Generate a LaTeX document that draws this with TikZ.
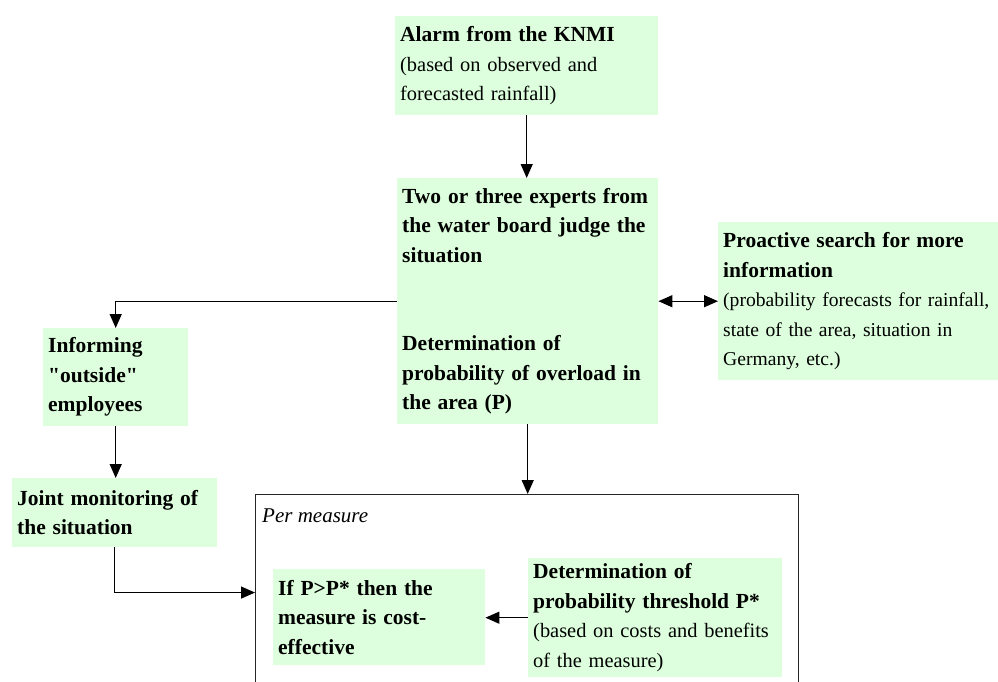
\documentclass[tikz,border=0pt]{standalone}
\usepackage{fontspec}
\setmainfont{Liberation Serif}[Ligatures=TeXOff]
\usetikzlibrary{arrows.meta}
\definecolor{boxgreen}{RGB}{221,255,221}
\newcommand{\bt}[1]{{\fontsize{21.5}{29.5}\selectfont\bfseries #1}}
\tikzset{
  flowbox/.style={fill=boxgreen, draw=none, anchor=north west, inner xsep=5pt, inner ysep=2pt,
    align=left, font=\fontsize{20.4}{29.5}\selectfont},
  arr/.style={line width=1.3pt, -{Triangle[length=14pt,width=12pt]}},
  dblarr/.style={line width=1.3pt, {Triangle[length=14pt,width=12pt]}-{Triangle[length=14pt,width=12pt]}},
  framebox/.style={draw=black!85, line width=1.1pt, anchor=north west, inner sep=0pt}
}
\begin{document}
\begin{tikzpicture}[x=1pt, y=-1pt]
\useasboundingbox (0,0) rectangle (998,682);

\node[flowbox, text width=253pt, minimum width=263pt, minimum height=99pt] (alarm) at (395,16)
  {\bt{Alarm from the KNMI}\\(based on observed and\\forecasted rainfall)};

\node[flowbox, text width=251pt, minimum width=261pt, minimum height=246pt] (judge) at (397,178)
  {\bt{Two or three experts from}\\\bt{the water board judge the}\\\bt{situation}\\[59pt]\bt{Determination of}\\\bt{probability of overload in}\\\bt{the area (P)}};

\node[flowbox, text width=270pt, minimum width=280pt, minimum height=158pt, font=\fontsize{19.6}{29.5}\selectfont] (proact) at (718,222)
  {\bt{Proactive search for more}\\\bt{information}\\\mbox{(probability forecasts for rainfall,}\\state of the area, situation in\\Germany, etc.)};

\node[flowbox, text width=135pt, minimum width=145pt, minimum height=98pt] (inform) at (43,328)
  {\bt{Informing}\\\bt{"outside"}\\\bt{employees}};

\node[flowbox, text width=195pt, minimum width=205pt, minimum height=69pt] (joint) at (12,478)
  {\bt{Joint monitoring of}\\\bt{the situation}};

\node[framebox, minimum width=543pt, minimum height=196pt] (frame) at (255,494) {};

\node[anchor=base west, inner sep=0pt, font=\fontsize{21}{29.5}\selectfont\itshape] (permeasure) at (262,522) {Per measure};

\node[flowbox, text width=202pt, minimum width=212pt, minimum height=96pt] (ifbox) at (273,569)
  {\bt{If P>P* then the}\\\bt{measure is cost-}\\\bt{effective}};

\node[flowbox, text width=244pt, minimum width=254pt, minimum height=119pt] (det) at (528,558)
  {\bt{Determination of}\\\bt{probability threshold P*}\\(based on costs and benefits\\of the measure)};

\draw[arr] (alarm.south) -- (alarm.south |- judge.north);
\draw[arr] (judge.west) -| (inform.north);
\draw[dblarr] (judge.east) -- (judge.east -| proact.west);
\draw[arr] (inform.south) -- (inform.south |- joint.north);
\draw[arr] (joint.south) |- (frame.west);
\draw[arr] (judge.south) -- (judge.south |- frame.north);
\draw[arr] (det.west) -- (det.west -| ifbox.east);
\end{tikzpicture}
\end{document}
